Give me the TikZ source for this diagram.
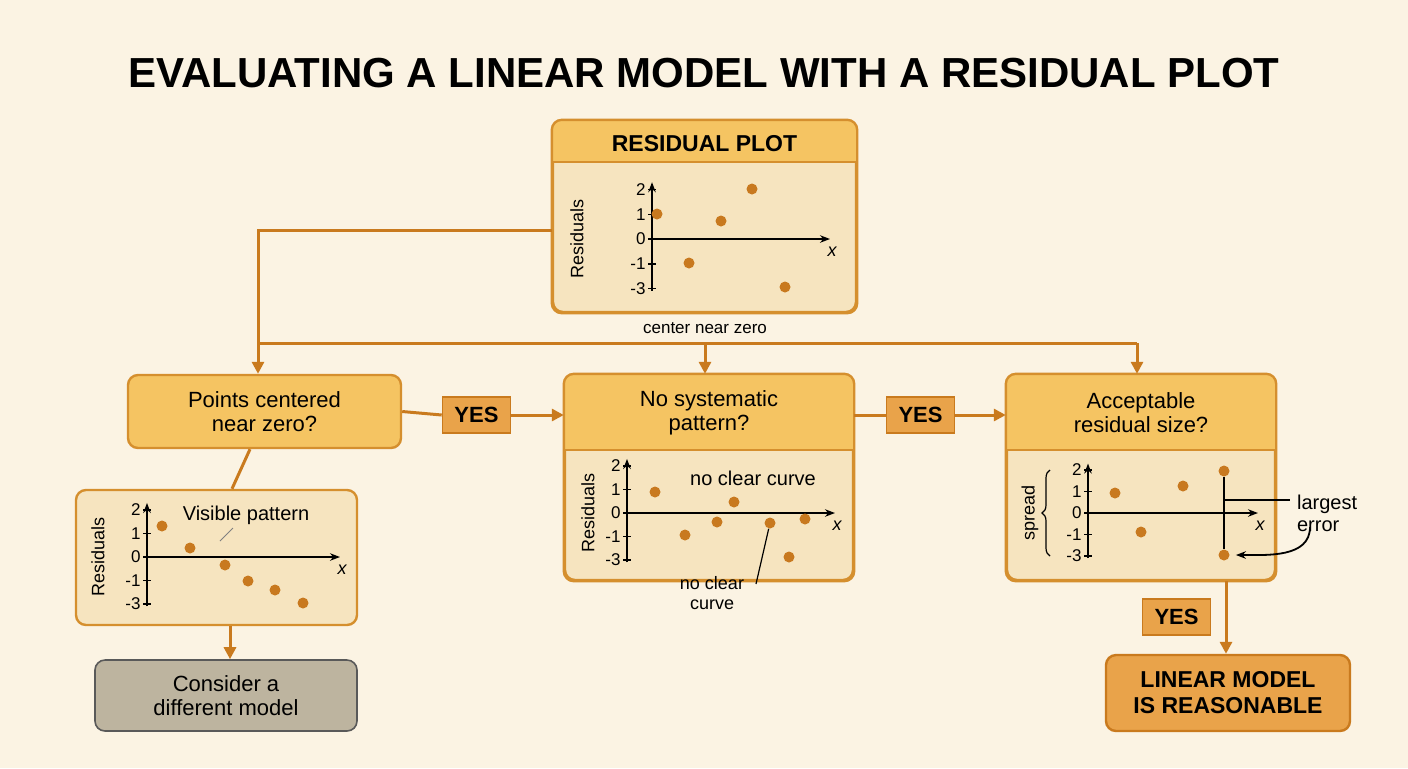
\documentclass[tikz,border=0pt]{standalone}
\usepackage{fontspec}
\setmainfont{Liberation Sans}
\usetikzlibrary{positioning,arrows.meta,decorations.pathreplacing}
\definecolor{bgc}{HTML}{FBF3E3}
\definecolor{bodyc}{HTML}{F6E4BF}
\definecolor{headc}{HTML}{F5C462}
\definecolor{edgec}{HTML}{D58F2E}
\definecolor{linkc}{HTML}{C97A1E}
\definecolor{dotc}{HTML}{C8791F}
\definecolor{greyc}{HTML}{BDB49F}
\definecolor{finc}{HTML}{E9A34A}
\tikzset{
  box/.style={draw=edgec, line width=1.2pt, rounded corners=5pt, fill=bodyc},
  ttl/.style={font=\fontsize{11}{12}\selectfont, align=center},
  yes/.style={draw=linkc, fill=finc, line width=0.8pt, font=\bfseries\fontsize{11}{12}\selectfont,
    minimum width=34pt, minimum height=18pt, inner sep=0pt},
  link/.style={draw=linkc, line width=1.5pt},
  arr/.style={link, -{Triangle[length=6pt,width=6pt]}},
  ax/.style={line width=0.8pt, -{Stealth[length=5pt]}},
  tk/.style={font=\fontsize{8.5}{9}\selectfont, anchor=east, inner sep=1pt},
  dot/.style={circle, fill=dotc, inner sep=0pt, minimum size=5.5pt},
}
% header band of a titled box
\newcommand{\hdr}[2]{%
  \begin{scope}
    \clip[rounded corners=5pt] (#1.north west) rectangle (#1.south east);
    \fill[headc] (#1.north west) rectangle ([yshift=0]#1.east |- 0,#2);
  \end{scope}
  \draw[edgec, line width=1.2pt] (#1.west |- 0,#2) -- (#1.east |- 0,#2);
  \draw[edgec, line width=1.2pt, rounded corners=5pt] (#1.north west) rectangle (#1.south east);}
% axes: origin x, y0, step, x end
\newcommand{\axes}[4]{%
  \draw[ax] (#1,#2+2.1*#3) -- (#1,#2-2.3*#3);
  \draw[ax] (#1,#2) -- (#4,#2);
  \node[font=\itshape\fontsize{9}{9}\selectfont] at (#4+2,#2+13) {x};
  \foreach \v/\k in {2/-2,1/-1,0/0,-1/1,-3/2}{
    \draw[line width=0.8pt] (#1-4,#2+\k*#3) -- (#1+4,#2+\k*#3);
    \node[tk] at (#1-4,#2+\k*#3) {\v};}}
\begin{document}
\begin{tikzpicture}[x=0.5pt,y=-0.5pt]
\fill[bgc] (0,0) rectangle (1408,768);
\node[font=\bfseries\fontsize{21}{24}\selectfont] (title) at (704,73) {EVALUATING A LINEAR MODEL WITH A RESIDUAL PLOT};

% boxes
\node[box, minimum width=151.5pt, minimum height=95.5pt] (plot) at (704.5,216.5) {};
\hdr{plot}{162}
\node[font=\bfseries\fontsize{11.5}{12}\selectfont] at (704.5,144) {RESIDUAL PLOT};

\node[box, fill=headc, minimum width=136.5pt, minimum height=36.5pt, ttl] (cent) at (264.5,411.5) {Points centered\\near zero?};
\node[box, minimum width=144pt, minimum height=102.5pt] (syst) at (709,477.5) {};
\hdr{syst}{450}
\node[ttl] at (709,413) {No systematic\\pattern?};
\node[box, minimum width=134pt, minimum height=102.5pt] (acc) at (1141,477.5) {};
\hdr{acc}{450}
\node[ttl] at (1141,413) {Acceptable\\residual size?};
\node[box, minimum width=140.5pt, minimum height=67.5pt] (vis) at (216.5,557.5) {};
\node[box, fill=greyc, draw=gray!70!black, line width=0.8pt, minimum width=131pt, minimum height=35.5pt, ttl] (diff) at (226,695.5) {Consider a\\different model};
\node[box, fill=finc, draw=linkc, minimum width=122pt, minimum height=38pt, ttl, font=\bfseries\fontsize{11.5}{13}\selectfont] (lin) at (1228,693) {LINEAR MODEL\\IS REASONABLE};

% yes labels
\node[yes] (y1) at (476.5,415) {YES};
\node[yes] (y2) at (920.5,415) {YES};
\node[yes] (y3) at (1176.5,617) {YES};

% connectors
\coordinate (k1) at (258,230);
\coordinate (bus) at (258,343);
\draw[link] (plot.west |- k1) -- (k1) -- (bus);
\draw[arr] (bus) -- (cent.north -| bus);
\draw[link] (bus) -- (1137,343);
\draw[arr] (705,343) -- (syst.north -| 705,0);
\draw[arr] (1137,343) -- (acc.north -| 1137,0);
\node[font=\fontsize{8.5}{9}\selectfont] (cnz) at (705,328) {center near zero};
\draw[link] (cent.east) -- (y1.west);
\draw[arr] (y1.east) -- (syst.west |- y1);
\draw[link] (syst.east |- y2) -- (y2.west);
\draw[arr] (y2.east) -- (acc.west |- y2);
\draw[link] (cent.south -| 250,0) -- (vis.north -| 232,0);
\draw[arr] (vis.south -| 230,0) -- (diff.north -| 230,0);
\draw[arr] (acc.south -| 1226,0) -- (lin.north -| 1226,0);

% residual plot
\axes{652}{239}{24.7}{830}
\node[rotate=90, font=\fontsize{9}{9}\selectfont] at (577,239) {Residuals};
\foreach \p in {(657,214),(689,263),(721,221),(752,189),(785,287)} \node[dot] at \p {};

% middle plot
\axes{627}{513}{23.5}{835}
\node[rotate=90, font=\fontsize{9}{9}\selectfont] at (588,513) {Residuals};
\foreach \p in {(655,492),(685,535),(717,522),(734,502),(805,519),(789,557)} \node[dot] at \p {};
\node[dot] (cv) at (770,523) {};
\node[font=\fontsize{10}{11}\selectfont] at (753,478) {no clear curve};
\node[font=\fontsize{9}{10}\selectfont, align=center] (ncc) at (712,593) {no clear\\curve};
\draw[line width=0.6pt] (cv) -- (756,584);

% right plot
\axes{1088}{513}{21.5}{1258}
\foreach \p in {(1115,493),(1141,532),(1183,486)} \node[dot] at \p {};
\node[dot] (hi) at (1224,471) {};
\node[dot] (lo) at (1224,555) {};
\draw[line width=0.8pt] (hi) -- (lo);
\node[font=\fontsize{10}{11}\selectfont, align=left, anchor=west] (le) at (1290,513) {largest\\error};
\draw[line width=0.6pt] (1224,500) -- (le.west |- 0,500);
\draw[line width=0.9pt, -{Stealth[length=5pt]}] (1310,527) to[out=-90,in=0] ([xshift=3pt]lo.east);
\draw[line width=0.6pt, decorate, decoration={brace, amplitude=4pt}] (1050,556) -- (1050,470);
\node[rotate=90, font=\fontsize{9}{9}\selectfont] at (1030,513) {spread};

% left plot
\axes{147}{557}{23.5}{340}
\node[rotate=90, font=\fontsize{9}{9}\selectfont] at (98,557) {Residuals};
\foreach \p in {(162,526),(190,548),(225,565),(248,581),(275,590),(303,603)} \node[dot] at \p {};
\node[font=\fontsize{10}{11}\selectfont] (vp) at (246,515) {Visible pattern};
\draw[gray, line width=0.5pt] (233,528) -- (220,541);
\end{tikzpicture}
\end{document}
